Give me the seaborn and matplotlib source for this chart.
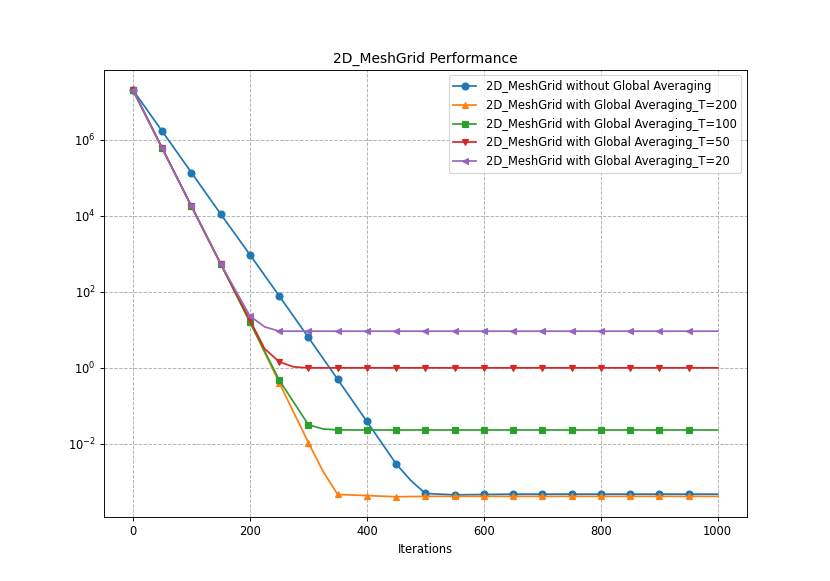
import numpy as np
import pandas as pd
import seaborn as sns
import matplotlib
matplotlib.use('Agg')
import matplotlib.pyplot as plt

# values read every 50 iterations, plus a few extra readings where curves bend
no_avg_iter = [0, 50, 100, 150, 200, 250, 300, 350, 400, 450, 475, 500,
               550, 600, 650, 700, 750, 800, 850, 900, 950, 1000]
no_avg = [2e7, 1.65e6, 1.35e5, 1.1e4, 940, 78, 6.3, 0.50, 0.039, 0.0030, 0.0011, 5.0e-4,
          4.6e-4, 4.7e-4, 4.8e-4, 4.8e-4, 4.8e-4, 4.8e-4, 4.8e-4, 4.8e-4, 4.8e-4, 4.8e-4]

t200_iter = [0, 50, 100, 150, 200, 250, 300, 325, 350, 400, 450, 500,
             550, 600, 650, 700, 750, 800, 850, 900, 950, 1000]
avg_t200 = [2e7, 5.9e5, 1.76e4, 540, 16, 0.41, 0.0108, 0.0019, 4.7e-4, 4.4e-4, 4.1e-4, 4.2e-4,
            4.2e-4, 4.2e-4, 4.2e-4, 4.2e-4, 4.2e-4, 4.2e-4, 4.2e-4, 4.2e-4, 4.2e-4, 4.2e-4]

t100_iter = [0, 50, 100, 150, 200, 250, 300, 325, 350, 400, 450, 500,
             550, 600, 650, 700, 750, 800, 850, 900, 950, 1000]
avg_t100 = [2e7, 5.9e5, 1.76e4, 540, 16, 0.48, 0.032, 0.0248, 0.0234, 0.0233, 0.0233, 0.0233,
            0.0233, 0.0233, 0.0233, 0.0233, 0.0233, 0.0233, 0.0233, 0.0233, 0.0233, 0.0233]

t50_iter = [0, 50, 100, 150, 200, 225, 250, 275, 300, 350, 400, 450, 500,
            550, 600, 650, 700, 750, 800, 850, 900, 950, 1000]
avg_t50 = [2e7, 5.9e5, 1.76e4, 540, 18, 3.2, 1.44, 1.06, 1.0, 1.0, 1.0, 1.0, 1.0,
           1.0, 1.0, 1.0, 1.0, 1.0, 1.0, 1.0, 1.0, 1.0, 1.0]

t20_iter = [0, 50, 100, 150, 200, 225, 250, 300, 350, 400, 450, 500,
            550, 600, 650, 700, 750, 800, 850, 900, 950, 1000]
avg_t20 = [2e7, 5.9e5, 1.76e4, 540, 23, 12, 9.2, 9.2, 9.2, 9.2, 9.2, 9.2,
           9.2, 9.2, 9.2, 9.2, 9.2, 9.2, 9.2, 9.2, 9.2, 9.2]

series = [
    ('2D_MeshGrid without Global Averaging', no_avg_iter, no_avg, 'o', 'tab:blue'),
    ('2D_MeshGrid with Global Averaging_T=200', t200_iter, avg_t200, '^', 'tab:orange'),
    ('2D_MeshGrid with Global Averaging_T=100', t100_iter, avg_t100, 's', 'tab:green'),
    ('2D_MeshGrid with Global Averaging_T=50', t50_iter, avg_t50, 'v', 'tab:red'),
    ('2D_MeshGrid with Global Averaging_T=20', t20_iter, avg_t20, '<', 'tab:purple'),
]

fig, ax = plt.subplots(figsize=(10, 7), dpi=83)

for label, iters, vals, marker, color in series:
    df = pd.DataFrame({'iter': iters, 'val': vals})
    # markers only on every 50th iteration, not on the last one
    marks = [i for i, it in enumerate(iters) if it % 50 == 0 and it < 1000]
    sns.lineplot(data=df, x='iter', y='val', ax=ax, label=label, color=color,
                 marker=marker, markersize=6, markeredgecolor=color,
                 markeredgewidth=1, linewidth=1.5, markevery=marks)

ax.set_yscale('log')
ax.grid(True, linestyle='--', color='#b0b0b0', linewidth=0.8)
ax.set_title('2D_MeshGrid Performance')
ax.set_xlabel('Iterations')
ax.set_ylabel(None)
ax.legend(loc='upper right')

fig.savefig('out.png', dpi=83)
